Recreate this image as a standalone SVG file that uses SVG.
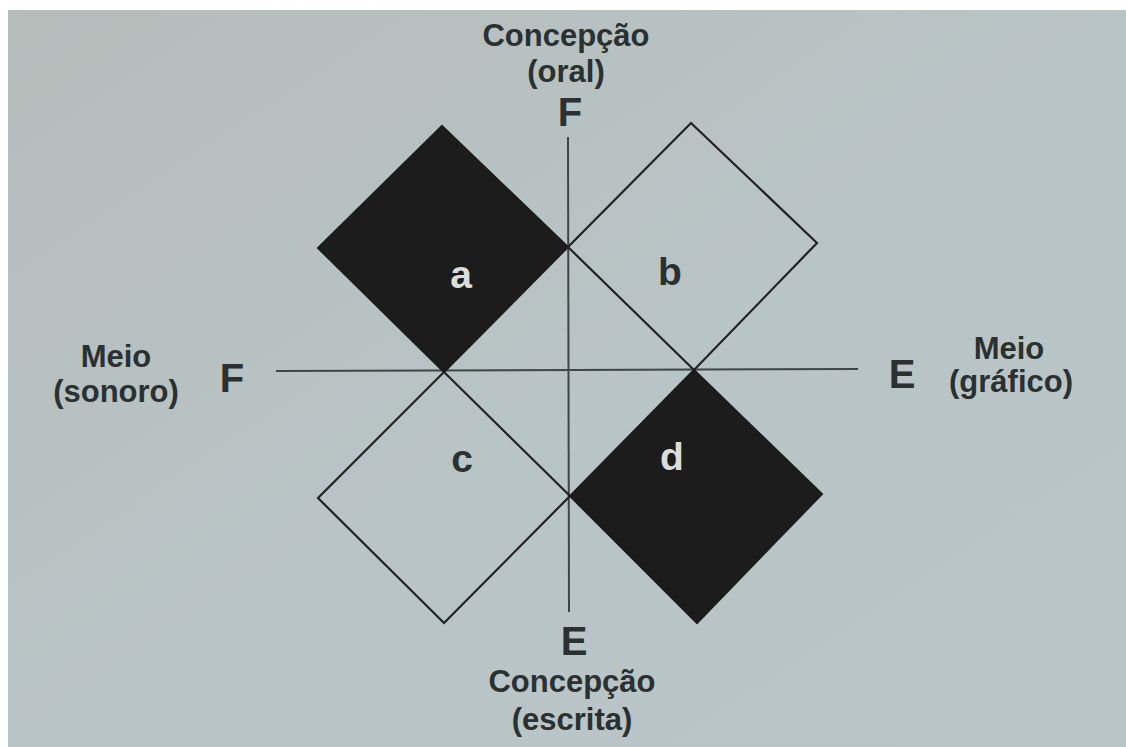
<svg xmlns="http://www.w3.org/2000/svg" width="1126" height="747" viewBox="0 0 1126 747">
<style>
.lbl{font-family:"Liberation Sans",Arial,sans-serif;font-weight:bold;fill:#2b3030;text-anchor:middle}
.t{font-size:31px}
.pole{font-size:40px}
.sq{font-size:39px}
.inv{fill:#dcdcdc}
.dark{fill:#1c1c1c;stroke:#1c1c1c;stroke-width:2;stroke-linejoin:miter}
.light{fill:none;stroke:#222;stroke-width:2.2;stroke-linejoin:miter}
.axis{stroke:#3f4646;stroke-width:2}
</style>
<defs>
<linearGradient id="bg" x1="0" y1="0" x2="1" y2="1">
<stop offset="0" stop-color="#b6bcba"/>
<stop offset="0.5" stop-color="#b9c4c6"/>
<stop offset="1" stop-color="#bac5c7"/>
</linearGradient>
</defs>
<rect width="1126" height="747" fill="#ffffff"/>
<rect x="8" y="10" width="1118" height="737" fill="url(#bg)"/>
<g id="connectors">
<line class="axis" x1="568" y1="137" x2="569" y2="612"/>
<line class="axis" x1="276" y1="371" x2="858" y2="369"/>
</g>
<g id="node-a">
<polygon class="dark" points="442,126 568,247 444,372 318,248"/>
<text class="lbl sq inv" x="461" y="288">a</text>
</g>
<g id="node-b">
<polygon class="light" points="691,123 817,243 694,370 568,247"/>
<text class="lbl sq" x="670" y="285">b</text>
</g>
<g id="node-c">
<polygon class="light" points="444,372 570,496 444,623 318,498"/>
<text class="lbl sq" x="462" y="472">c</text>
</g>
<g id="node-d">
<polygon class="dark" points="694,370 822,494 697,623 570,496"/>
<text class="lbl sq inv" x="672" y="470">d</text>
</g>
<g id="labels">
<text class="lbl t" x="566" y="46">Concepção</text>
<text class="lbl t" x="566" y="82">(oral)</text>
<text class="lbl pole" x="570" y="126">F</text>
<text class="lbl t" x="116" y="367">Meio</text>
<text class="lbl t" x="116" y="402">(sonoro)</text>
<text class="lbl pole" x="232" y="392">F</text>
<text class="lbl pole" x="902" y="388">E</text>
<text class="lbl t" x="1009" y="359">Meio</text>
<text class="lbl t" x="1011" y="392">(gráfico)</text>
<text class="lbl pole" x="574" y="655">E</text>
<text class="lbl t" x="572" y="692">Concepção</text>
<text class="lbl t" x="572" y="730">(escrita)</text>
</g>
</svg>
